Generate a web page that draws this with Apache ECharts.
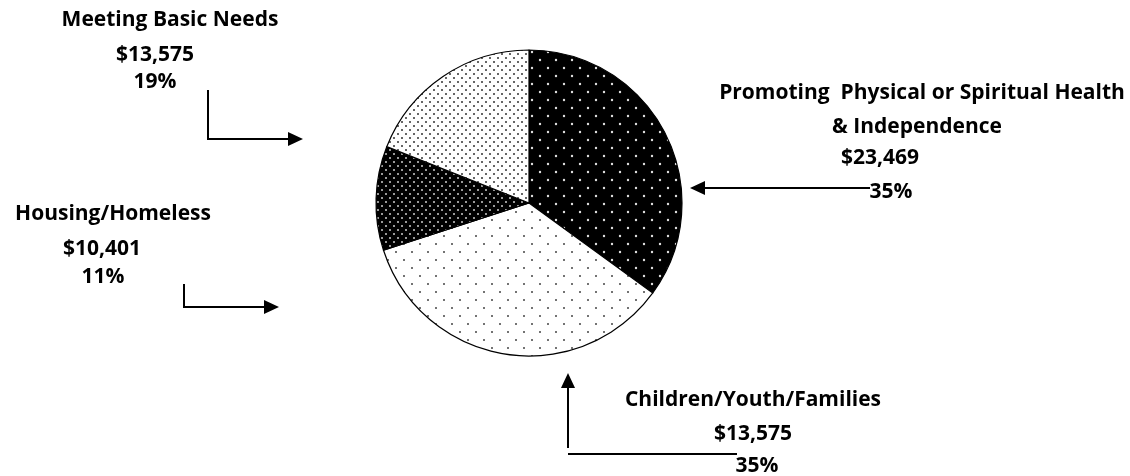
<!DOCTYPE html>
<html>
<head>
<meta charset="utf-8">
<script src="https://cdn.jsdelivr.net/npm/echarts@6/dist/echarts.min.js"></script>
<style>
html,body{margin:0;padding:0;background:#fff;}
#chart{width:1130px;height:476px;}
</style>
</head>
<body>
<div id="chart"></div>
<script>
// ---- data ----
var categories = ['Promoting  Physical or Spiritual Health & Independence', 'Children/Youth/Families', 'Housing/Homeless', 'Meeting Basic Needs'];
var amounts = ['$23,469', '$13,575', '$10,401', '$13,575'];
var percents = [35, 35, 11, 19];

function makePattern(size, bg, fg, r, dots) {
  var c = document.createElement('canvas');
  c.width = size; c.height = size;
  var ctx = c.getContext('2d');
  ctx.fillStyle = bg; ctx.fillRect(0, 0, size, size);
  ctx.fillStyle = fg;
  dots.forEach(function (d) {
    ctx.beginPath(); ctx.arc(d[0], d[1], r, 0, Math.PI * 2); ctx.fill();
  });
  return { image: c, repeat: 'repeat' };
}
var patterns = [
  makePattern(16, '#000', '#e0e0e0', 1.2, [[4, 4], [12, 12]]),
  makePattern(16, '#fff', '#444', 1.0, [[4, 4], [12, 12]]),
  makePattern(8, '#000', '#ccc', 1.0, [[2, 2], [6, 6]]),
  makePattern(8, '#fff', '#333', 1.0, [[2, 2], [6, 6]])
];

var chart = echarts.init(document.getElementById('chart'));
var font = '"Open Sans", sans-serif';
function txt(x, y, s) {
  return { type: 'text', x: x, y: y, style: { text: s, font: 'bold 21px ' + font, fill: '#000', textAlign: 'center', textVerticalAlign: 'middle' } };
}
function line(x1, y1, x2, y2) {
  return { type: 'line', shape: { x1: x1, y1: y1, x2: x2, y2: y2 }, style: { stroke: '#000', lineWidth: 2 } };
}
function head(points) {
  return { type: 'polygon', shape: { points: points }, style: { fill: '#000' } };
}

chart.setOption({
  animation: false,
  series: [{
    type: 'pie',
    center: [529, 203],
    radius: 153,
    startAngle: 90,
    clockwise: true,
    label: { show: false },
    labelLine: { show: false },
    itemStyle: { borderColor: '#000', borderWidth: 1.2 },
    emphasis: { disabled: true },
    data: categories.map(function (c, i) {
      return { name: c, value: percents[i], itemStyle: { color: patterns[i] } };
    })
  }],
  graphic: [
    txt(170, 20, 'Meeting Basic Needs'),
    txt(155, 55, amounts[3]),
    txt(155, 82, percents[3] + '%'),
    line(208, 90, 208, 139), line(207, 139, 290, 139), head([[303, 139], [288, 132], [288, 146]]),

    txt(113, 214, 'Housing/Homeless'),
    txt(102, 249, amounts[2]),
    txt(103, 277, percents[2] + '%'),
    line(184, 284, 184, 307), line(183, 307, 266, 307), head([[279, 307], [264, 300], [264, 314]]),

    txt(922, 93, 'Promoting  Physical or Spiritual Health'),
    txt(917, 127, '& Independence'),
    txt(880, 158, amounts[0]),
    txt(891, 192, percents[0] + '%'),
    line(870, 188, 704, 188), head([[690, 188], [705, 181], [705, 195]]),

    txt(753, 400, 'Children/Youth/Families'),
    txt(753, 434, amounts[1]),
    txt(757, 466, percents[1] + '%'),
    line(568, 448, 568, 386), head([[568, 373], [561, 388], [575, 388]]),
    line(568, 454, 737, 454)
  ]
});
</script>
</body>
</html>
